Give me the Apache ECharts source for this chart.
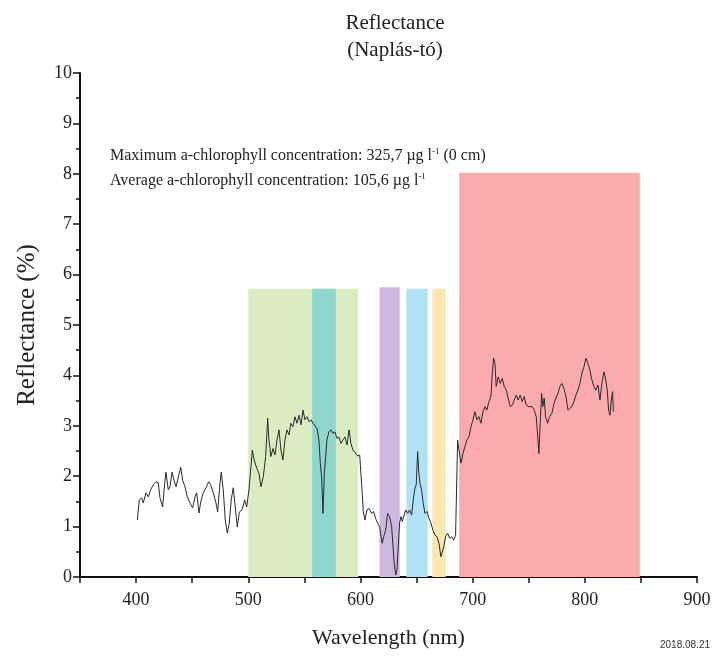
<!DOCTYPE html>
<html>
<head>
<meta charset="utf-8">
<script src="https://cdn.jsdelivr.net/npm/echarts@6/dist/echarts.min.js"></script>
<style>
  html, body { margin: 0; padding: 0; background: #fff; }
  #main { width: 722px; height: 658px; }
</style>
</head>
<body>
<div id="main"></div>
<script>
// wavelength (nm) and reflectance (%)
var wl = [
  401.1, 402.9, 405.0, 406.4, 408.8, 410.9, 413.0, 415.3, 417.7, 419.8,
  421.3, 423.7, 424.9, 426.6, 428.7, 430.2, 432.0, 433.8, 435.6, 437.6,
  439.8, 441.5, 443.6, 445.6, 448.0, 450.4, 452.5, 454.0, 456.1, 457.6,
  459.9, 462.3, 464.7, 466.5, 468.8, 471.2, 472.7, 474.8, 475.9, 477.7,
  479.5, 481.3, 483.1, 484.8, 486.6, 488.4, 490.2, 492.0, 494.4, 496.8,
  498.6, 500.6, 502.4, 503.6, 505.3, 507.5, 509.5, 511.3, 513.4, 515.5,
  517.3, 518.4, 520.2, 522.0, 523.8, 525.6, 527.4, 529.1, 530.9, 532.7,
  534.5, 536.3, 538.0, 539.8, 541.6, 543.4, 545.2, 547.0, 548.8, 550.5,
  552.3, 554.1, 555.9, 557.7, 559.4, 561.2, 563.0, 564.2, 565.4, 566.6,
  567.8, 569.0, 570.1, 571.9, 573.7, 575.5, 577.3, 579.0, 580.8, 582.6,
  584.4, 586.2, 588.0, 589.8, 591.5, 593.3, 595.1, 597.5, 599.3, 600.4,
  601.6, 602.5, 604.0, 605.8, 607.6, 610.0, 611.8, 613.5, 615.3, 617.1,
  618.3, 619.4, 620.7, 622.5, 624.2, 626.0, 627.8, 629.0, 630.1, 631.4,
  632.5, 633.7, 634.9, 636.1, 637.3, 639.0, 640.3, 642.1, 643.8, 645.6,
  647.4, 648.6, 649.7, 651.0, 651.9, 653.0, 654.5, 656.0, 657.5, 659.3,
  661.1, 662.8, 664.6, 666.4, 668.2, 670.0, 671.7, 672.9, 674.2, 675.9,
  677.7, 679.5, 681.3, 683.1, 684.8, 686.2, 686.6, 687.8, 689.6, 691.4,
  693.1, 694.9, 696.7, 698.5, 700.3, 702.0, 703.8, 705.6, 707.4, 709.2,
  711.0, 712.7, 714.5, 716.3, 717.5, 718.7, 719.9, 721.0, 722.8, 724.6,
  726.4, 728.2, 730.0, 731.7, 733.5, 735.3, 737.1, 738.9, 740.6, 742.4,
  744.2, 746.0, 747.8, 749.6, 751.3, 753.1, 754.9, 756.7, 757.8, 759.1,
  760.2, 761.5, 762.6, 763.8, 765.0, 766.8, 768.6, 770.7, 772.5, 774.2,
  776.0, 777.8, 779.6, 781.4, 783.2, 785.0, 786.7, 788.5, 790.3, 792.1,
  793.9, 795.6, 797.4, 799.2, 801.0, 802.8, 804.5, 806.3, 808.1, 809.9,
  811.7, 813.5, 815.2, 817.0, 818.2, 820.0, 821.2, 822.4, 823.6, 824.8,
  825.4
];
var refl = [
  1.13, 1.53, 1.57, 1.47, 1.67, 1.59, 1.73, 1.83, 1.89, 1.87,
  1.57, 1.39, 1.73, 2.08, 1.73, 1.79, 2.08, 1.92, 1.79, 1.98,
  2.18, 1.92, 1.79, 1.59, 1.47, 1.37, 1.59, 1.67, 1.27, 1.49,
  1.67, 1.77, 1.89, 1.83, 1.67, 1.47, 1.29, 1.87, 2.08, 1.73,
  1.13, 0.87, 1.07, 1.53, 1.77, 1.39, 0.99, 1.29, 1.33, 1.53,
  1.39, 1.73, 2.19, 2.52, 2.32, 2.16, 2.06, 1.79, 1.99, 2.39,
  3.15, 2.72, 2.39, 2.55, 2.42, 2.72, 2.92, 2.52, 2.32, 2.72,
  2.92, 2.82, 3.05, 2.98, 3.18, 3.05, 3.21, 3.02, 3.31, 3.12,
  3.18, 3.08, 3.12, 3.05, 3.02, 2.95, 2.72, 2.26, 1.99, 1.26,
  2.06, 2.39, 2.72, 2.88, 2.92, 2.85, 2.88, 2.75, 2.78, 2.65,
  2.72, 2.78, 2.62, 2.92, 2.65, 2.52, 2.47, 2.40, 2.42, 2.06,
  1.66, 1.30, 1.13, 1.33, 1.36, 1.26, 1.30, 1.16, 1.07, 1.00,
  0.80, 0.67, 0.80, 0.93, 1.26, 1.20, 1.00, 0.60, 0.27, 0.04,
  0.14, 0.60, 1.07, 1.20, 1.10, 1.23, 1.33, 1.26, 1.33, 1.23,
  1.59, 1.76, 1.83, 2.49, 2.12, 1.86, 1.73, 1.46, 1.26, 1.30,
  1.16, 1.07, 0.93, 0.83, 0.80, 0.67, 0.40, 0.37, 0.60, 0.80,
  0.87, 0.77, 0.80, 0.73, 0.83, 0.86, 2.72, 2.52, 2.26, 2.45,
  2.59, 2.72, 2.78, 2.98, 3.12, 3.28, 3.12, 3.18, 3.05, 3.28,
  3.38, 3.31, 3.48, 3.58, 4.04, 4.34, 4.24, 3.78, 3.97, 3.84,
  3.94, 3.78, 3.71, 3.55, 3.38, 3.41, 3.51, 3.61, 3.51, 3.61,
  3.48, 3.58, 3.41, 3.38, 3.35, 3.38, 3.31, 3.18, 2.85, 2.45,
  3.05, 3.64, 3.38, 3.55, 3.18, 3.05, 3.18, 3.25, 3.44, 3.55,
  3.64, 3.78, 3.84, 3.74, 3.58, 3.31, 3.35, 3.38, 3.48, 3.61,
  3.71, 3.84, 4.04, 4.17, 4.34, 4.24, 4.11, 3.91, 3.78, 3.71,
  3.81, 3.51, 3.84, 4.07, 3.97, 3.71, 3.31, 3.21, 3.51, 3.68,
  3.28
];

// coloured wavelength bands
var bandFrom = [500, 557, 617, 641, 664, 688];
var bandTo   = [598, 578, 635, 660, 676, 849];
var bandTop  = [5.72, 5.72, 5.75, 5.72, 5.72, 8.02];
var bandColors = ['#daedc2', '#8fd6cd', '#cdb9e0', '#aee2f4', '#fbe7b2', '#fbaaad'];

var xTicks = [400, 500, 600, 700, 800, 900];

var serif = '"Liberation Serif", "DejaVu Serif", serif';

var lineData = [];
for (var i = 0; i < wl.length; i++) {
  lineData.push([wl[i], refl[i]]);
}

var areas = [];
for (var j = 0; j < bandFrom.length; j++) {
  areas.push([
    { xAxis: bandFrom[j], yAxis: 0, itemStyle: { color: bandColors[j], opacity: 1 } },
    { xAxis: bandTo[j], yAxis: bandTop[j] }
  ]);
}

var supStyle = { fontSize: 9, verticalAlign: 'top', padding: [0, 0, 9, 0], fontFamily: serif, fill: '#222' };

var chart = echarts.init(document.getElementById('main'));
var option = {
  backgroundColor: '#fff',
  animation: false,
  title: [{
    text: 'Reflectance\n(Naplás-tó)',
    left: 390,
    top: 5,
    textAlign: 'center',
    textStyle: { fontFamily: serif, fontSize: 21, fontWeight: 'normal', color: '#222', lineHeight: 27 }
  }],
  grid: { left: 80, right: 25, top: 73, bottom: 81 },
  xAxis: {
    type: 'value',
    min: 350,
    max: 900,
    interval: 50,
    name: 'Wavelength (nm)',
    nameLocation: 'middle',
    nameGap: 50,
    nameTextStyle: { fontFamily: serif, fontSize: 22, color: '#222' },
    axisLine: { lineStyle: { color: '#111', width: 2 } },
    axisTick: { inside: false, length: 6, lineStyle: { color: '#111', width: 1.5 } },
    axisLabel: {
      fontFamily: serif, fontSize: 18, color: '#222', margin: 14,
      formatter: function (v) { return xTicks.indexOf(v) >= 0 ? String(v) : ''; }
    },
    splitLine: { show: false }
  },
  yAxis: {
    type: 'value',
    min: 0,
    max: 10,
    interval: 1,
    name: 'Reflectance (%)',
    nameLocation: 'middle',
    nameGap: 40,
    nameTextStyle: { fontFamily: serif, fontSize: 25, color: '#222' },
    axisLine: { show: true, lineStyle: { color: '#111', width: 2 } },
    axisTick: { show: true, inside: false, length: 7, lineStyle: { color: '#111', width: 1.5 } },
    minorTick: { show: true, splitNumber: 2, length: 4, lineStyle: { color: '#111', width: 1.5 } },
    axisLabel: { fontFamily: serif, fontSize: 18, color: '#222', margin: 8 },
    splitLine: { show: false },
    minorSplitLine: { show: false }
  },
  graphic: [
    {
      type: 'text', left: 110, top: 147,
      style: {
        text: 'Maximum a-chlorophyll concentration: 325,7 µg l{s|-1} (0 cm)',
        font: '16px ' + serif, fill: '#222',
        rich: { s: supStyle }
      }
    },
    {
      type: 'text', left: 110, top: 172,
      style: {
        text: 'Average a-chlorophyll concentration: 105,6 µg l{s|-1}',
        font: '16px ' + serif, fill: '#222',
        rich: { s: supStyle }
      }
    },
    {
      type: 'text', right: 12, top: 640,
      style: { text: '2018.08.21', font: '10px "Liberation Sans", Arial, sans-serif', fill: '#333' }
    }
  ],
  series: [
    {
      name: 'bands',
      type: 'line',
      data: [],
      z: 1,
      silent: true,
      markArea: { silent: true, data: areas }
    },
    {
      name: 'Reflectance',
      type: 'line',
      data: lineData,
      z: 3,
      showSymbol: false,
      symbol: 'none',
      lineStyle: { color: '#2a2a2a', width: 1 }
    }
  ]
};
chart.setOption(option);
</script>
</body>
</html>
